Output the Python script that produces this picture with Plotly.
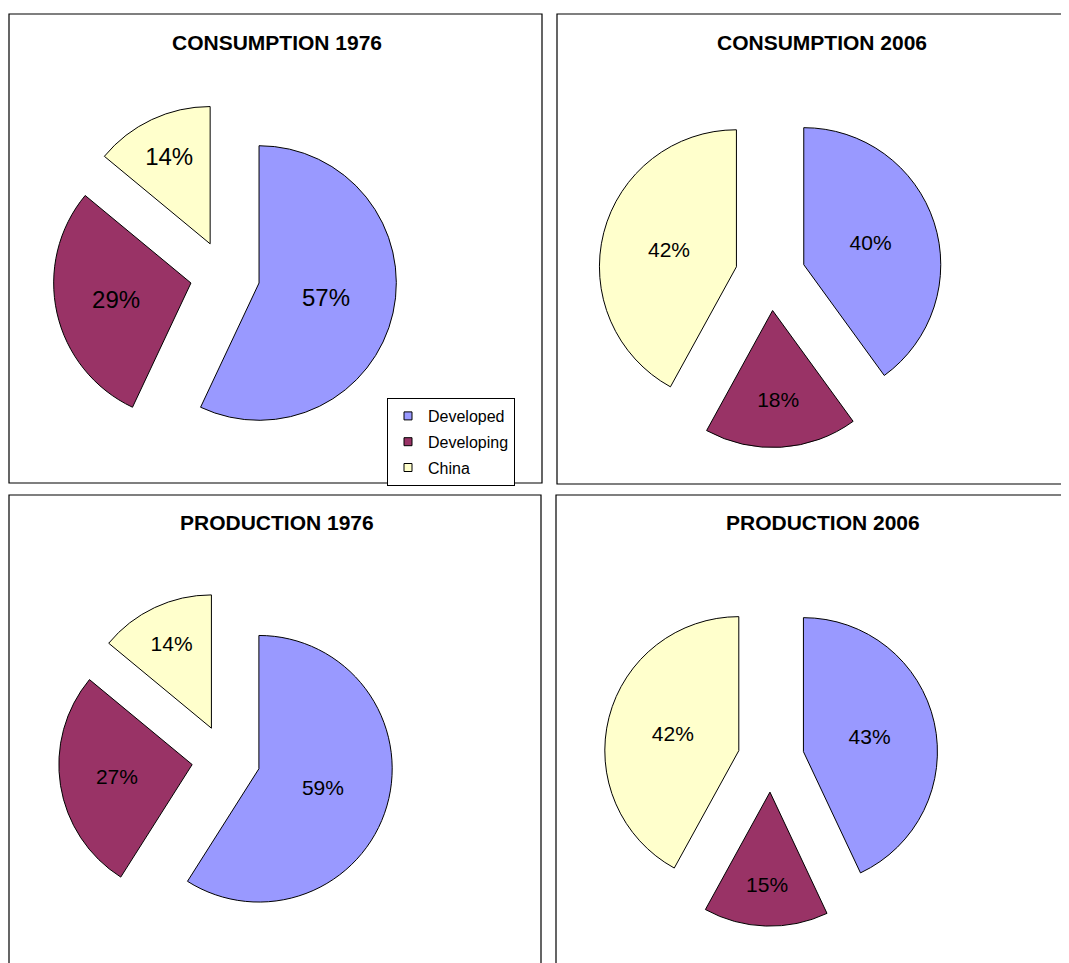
import plotly.graph_objects as go

# page body has an 8px margin: figure pixel = screen pixel - 8
OFF = 8
W, H = 1069 - OFF, 963 - OFF

labels = ["Developed", "Developing", "China"]
colors = ["#9999FF", "#993366", "#FFFFCC"]

titles = ["CONSUMPTION 1976", "CONSUMPTION 2006", "PRODUCTION 1976", "PRODUCTION 2006"]
cons_1976 = [57, 29, 14]
cons_2006 = [40, 18, 42]
prod_1976 = [59, 27, 14]
prod_2006 = [43, 15, 42]
series = [cons_1976, cons_2006, prod_1976, prod_2006]

# layout / style (screen-pixel geometry of each exploded pie)
pulls = [0.254, 0.256, 0.257, 0.248]
centers = [(225, 275.4, 137.3), (770.4, 275.5, 137.0), (226, 759.2, 133.3), (771, 758.9, 134.0)]
text_sizes = [24, 21, 21, 21]
panels = [(9, 14, 542, 483), (557, 14, 1100, 484), (9, 495, 541, 1000), (556, 495, 1100, 1000)]
title_pos = [(277, 43), (821.5, 43), (277, 522), (822.5, 522)]
FONT = "Liberation Sans, Arial, sans-serif"


def px(x):
    return (x - OFF) / W


def py(y):
    return 1 - (y - OFF) / H


def dom(cx, cy, half):
    return dict(x=[px(cx - half), px(cx + half)], y=[py(cy + half), py(cy - half)])


fig = go.Figure()
for i, vals in enumerate(series):
    cx, cy, r = centers[i]
    half = r * (1 + pulls[i])
    fig.add_trace(go.Pie(
        labels=labels, values=vals, sort=False, direction="clockwise", rotation=0,
        pull=pulls[i], domain=dom(cx, cy, half),
        marker=dict(colors=colors, line=dict(color="black", width=1)),
        texttemplate="%{percent:.0%}", textposition="inside",
        insidetextorientation="horizontal",
        textfont=dict(family=FONT, size=text_sizes[i], color="black"),
        showlegend=False, hoverinfo="label+percent",
    ))

# legend entries (small square swatches like the original)
for lab, col in zip(labels, colors):
    fig.add_trace(go.Scatter(
        x=[None], y=[None], mode="markers", name=lab, legendgroup=lab,
        marker=dict(symbol="square", size=8, color=col, line=dict(color="black", width=1)),
    ))

shapes = []
for (x0, y0, x1, y1) in panels:
    shapes.append(dict(type="rect", xref="paper", yref="paper",
                       x0=px(x0), x1=px(x1), y0=py(y1), y1=py(y0),
                       line=dict(color="black", width=1.2), fillcolor="rgba(0,0,0,0)", layer="below"))

annotations = []
for t, (tx, ty) in zip(titles, title_pos):
    annotations.append(dict(text="<b>%s</b>" % t, xref="paper", yref="paper",
                            x=px(tx), y=py(ty), xanchor="center", yanchor="middle",
                            showarrow=False,
                            font=dict(family=FONT, size=21, color="black")))

fig.update_layout(
    width=W, height=H, margin=dict(l=0, r=0, t=0, b=0),
    paper_bgcolor="white", plot_bgcolor="white",
    xaxis=dict(visible=False), yaxis=dict(visible=False),
    shapes=shapes, annotations=annotations,
    showlegend=True,
    legend=dict(x=px(387), y=py(398), xanchor="left", yanchor="top",
                bordercolor="black", borderwidth=1, bgcolor="white",
                font=dict(family=FONT, size=16, color="black"),
                traceorder="grouped", tracegroupgap=2),
)

fig.write_html("out.html")
